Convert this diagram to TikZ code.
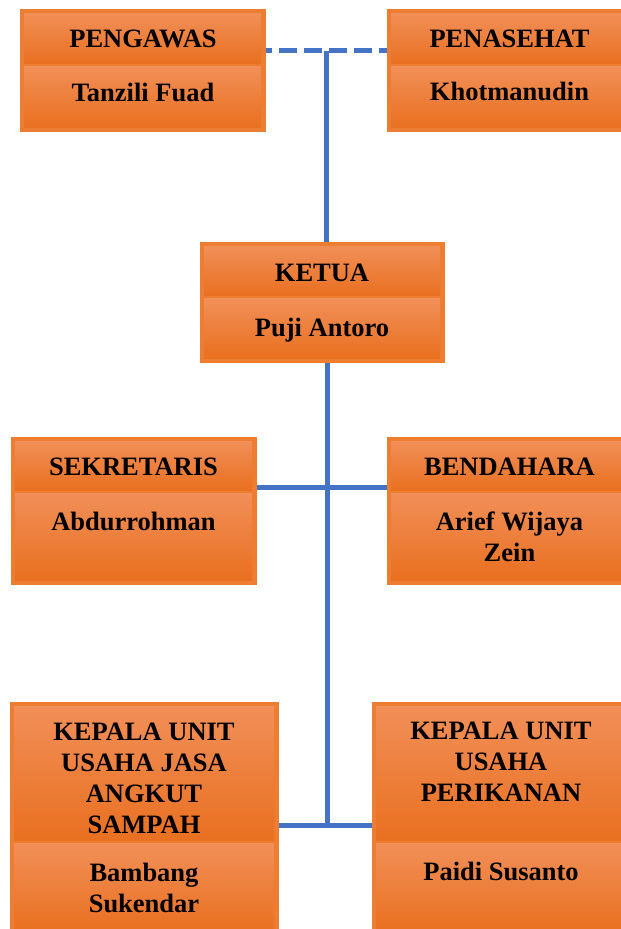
\documentclass[tikz,border=0pt]{standalone}
\usepackage{fontspec}
\setmainfont{Liberation Serif}
\usetikzlibrary{calc}
\definecolor{orLine}{RGB}{237,125,49}
\definecolor{orTop}{RGB}{241,143,88}
\definecolor{orMid}{RGB}{243,125,42}
\definecolor{orBot}{RGB}{233,112,32}
\definecolor{connBlue}{RGB}{68,114,196}
% name, x1, y1, x2, ysplit, y2
\newcommand\orgunit[6]{%
  \node[outerbox, minimum width={#4-#2}, minimum height={#6-#3}] (#1) at (#2,#3) {};
  \node[cellbox, minimum width={#4-#2-8}, minimum height={#5-#3-5.5}] (#1T) at (#2+4,#3+4) {};
  \node[cellbox, minimum width={#4-#2-8}, minimum height={#6-#5-5.5}] (#1B) at (#2+4,#5+1.5) {};
}
\begin{document}
\begin{tikzpicture}[x=1pt,y=-1pt,
  outerbox/.style={rectangle, draw=orLine, line width=1pt, fill=orLine, inner sep=0pt, anchor=north west},
  cellbox/.style={rectangle, draw=none, top color=orTop, middle color=orMid, bottom color=orBot, inner sep=0pt, anchor=north west},
  lbl/.style={font=\bfseries\fontsize{26.5}{31}\selectfont, align=center, anchor=north, inner sep=0pt, text=black},
  conn/.style={draw=connBlue, line width=5pt},
  dconn/.style={conn, dash pattern=on 18pt off 7pt, dash phase=12pt},
]
\useasboundingbox (0,0) rectangle (621,929);
\clip (0,0) rectangle (621,929);

\orgunit{pengawas}{20}{9}{265}{65}{131}
\orgunit{penasehat}{387}{9}{632}{65}{131}
\orgunit{ketua}{200}{242}{444}{297}{362}
\orgunit{sekretaris}{11}{437}{256}{491.5}{584}
\orgunit{bendahara}{387}{437}{632}{491.5}{584}
\orgunit{kepalaA}{10}{702}{278}{842}{935}
\orgunit{kepalaB}{372}{702}{630}{842}{935}

\node[lbl] (tPengawas) at (143,30) {PENGAWAS};
\node[lbl] (nPengawas) at (143,83) {Tanzili Fuad};
\node[lbl] (tPenasehat) at (509.5,30) {PENASEHAT};
\node[lbl] (nPenasehat) at (509.5,82) {Khotmanudin};
\node[lbl] (tKetua) at (322,264) {KETUA};
\node[lbl] (nKetua) at (322,318) {Puji Antoro};
\node[lbl] (tSekretaris) at (133.5,458) {SEKRETARIS};
\node[lbl] (nSekretaris) at (133.5,512) {Abdurrohman};
\node[lbl] (tBendahara) at (509.5,458) {BENDAHARA};
\node[lbl] (nBendahara) at (509.5,512) {Arief Wijaya\\Zein};
\node[lbl] (tKepalaA) at (144,722.5) {KEPALA UNIT\\USAHA JASA\\ANGKUT\\SAMPAH};
\node[lbl] (nKepalaA) at (144,862.5) {Bambang\\Sukendar};
\node[lbl] (tKepalaB) at (501,722) {KEPALA UNIT\\USAHA\\PERIKANAN};
\node[lbl] (nKepalaB) at (501,862) {Paidi Susanto};

\coordinate (jTop) at (326,50.5);
\coordinate (jMid) at (327.5,487);
\coordinate (jBot) at (327.5,825);

\draw[dconn] (pengawas.east |- jTop) -- (penasehat.west |- jTop);
\draw[conn] (jTop) -- (ketua.north -| jTop);
\draw[conn] (ketua.south -| jBot) -- (jBot);
\draw[conn] (sekretaris.east |- jMid) -- (bendahara.west |- jMid);
\draw[conn] (kepalaA.east |- jBot) -- (kepalaB.west |- jBot);
\end{tikzpicture}
\end{document}
